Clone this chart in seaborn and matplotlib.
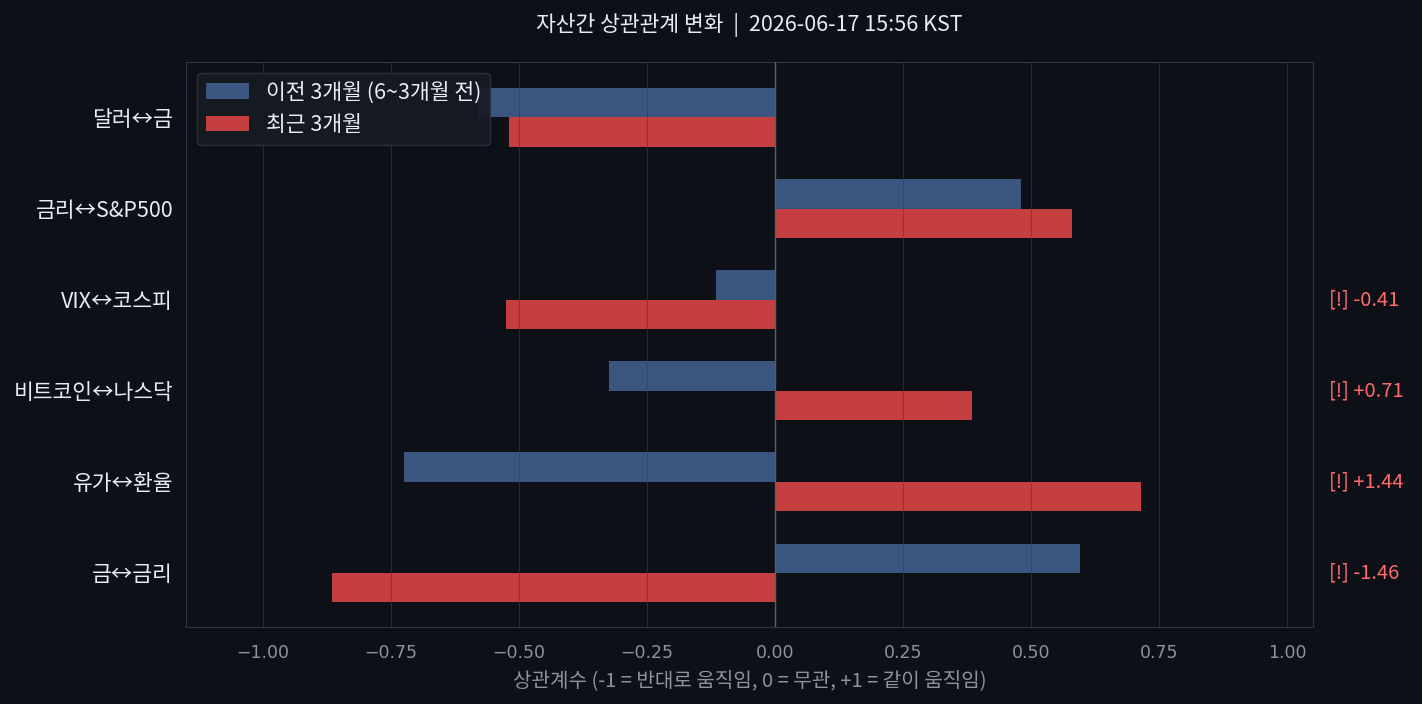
import pandas as pd
import matplotlib
matplotlib.use("Agg")
import matplotlib.pyplot as plt
import seaborn as sns

# data
pairs = ['달러↔금', '금리↔S&P500', 'VIX↔코스피', '비트코인↔나스닥', '유가↔환율', '금↔금리']
prev_3m = [-0.58, 0.48, -0.115, -0.325, -0.725, 0.595]
recent_3m = [-0.52, 0.58, -0.525, 0.385, 0.715, -0.865]
series_names = ['이전 3개월 (6~3개월 전)', '최근 3개월']
flag_labels = ['', '', '[!] -0.41', '[!] +0.71', '[!] +1.44', '[!] -1.46']
x_ticks = [-1.0, -0.75, -0.5, -0.25, 0.0, 0.25, 0.5, 0.75, 1.0]

BG = '#0d1117'
BLUE = '#3a5680'
RED = '#c63f40'

sns.set_style('dark')
plt.rcParams['font.family'] = ['Noto Sans CJK KR', 'DejaVu Sans']
plt.rcParams['axes.unicode_minus'] = True

df = pd.DataFrame({
    'pair': pairs * 2,
    'corr': prev_3m + recent_3m,
    'period': [series_names[0]] * len(pairs) + [series_names[1]] * len(pairs),
})

fig, ax = plt.subplots(figsize=(14.22, 7.04), dpi=100)
fig.patch.set_facecolor(BG)
ax.set_facecolor(BG)

sns.barplot(data=df, x='corr', y='pair', hue='period', orient='h',
            palette=[BLUE, RED], width=0.64, ax=ax, saturation=1, linewidth=0)

ax.set_xlim(-1.15, 1.05)
ax.set_ylim(5.6, -0.61)
ax.set_xticks(x_ticks)
ax.set_xticklabels(['\u2212%.2f' % abs(t) if t < 0 else '%.2f' % t for t in x_ticks],
                   family='DejaVu Sans')
ax.axvline(0, color='#5a5f66', linewidth=1.0, zorder=3)
ax.grid(axis='x', color='#3a3f47', linewidth=0.7, alpha=0.6, zorder=4)
ax.set_axisbelow(False)
ax.grid(axis='y', visible=False)

for i, lab in enumerate(flag_labels):
    if lab:
        ax.text(1.083, i, lab, color='#ff6b6b', fontsize=14.5, va='center',
                ha='left', clip_on=False)

for s in ax.spines.values():
    s.set_visible(True)
    s.set_color('#30363d')
ax.tick_params(axis='x', colors='#8b949e', labelsize=12.5, length=4, pad=8)
ax.tick_params(axis='y', colors='#8b949e', labelcolor='#e6edf3', labelsize=15.5,
               length=5, pad=4.5)
ax.set_ylabel('')
ax.set_xlabel('상관계수 (-1 = 반대로 움직임, 0 = 무관, +1 = 같이 움직임)',
              color='#8b949e', fontsize=14.5, labelpad=6)
ax.set_title('자산간 상관관계 변화  |  2026-06-17 15:56 KST', color='#e6edf3',
             fontsize=15.5, pad=22)

leg = ax.legend(loc='upper left', fontsize=15.5, facecolor='#161b22',
                edgecolor='#30363d', labelcolor='#e6edf3', framealpha=0.9)
leg.set_title(None)

plt.subplots_adjust(left=0.131, right=0.923, top=0.912, bottom=0.109)
plt.savefig('out.png', dpi=100, facecolor=BG)
